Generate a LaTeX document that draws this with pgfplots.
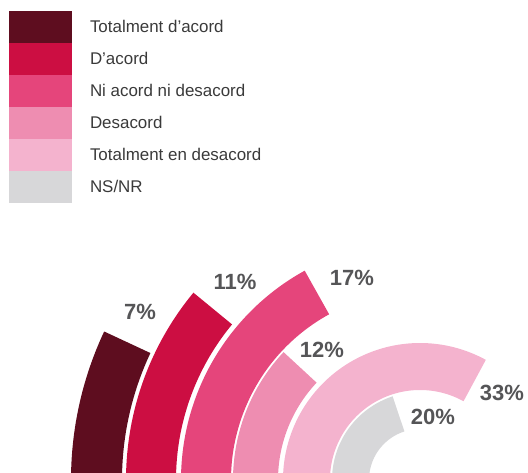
\documentclass[border=0pt]{standalone}
\usepackage{fontspec}
\setmainfont{Liberation Sans}
\usepackage{pgfplots}
\pgfplotsset{compat=1.18}
\definecolor{c1}{HTML}{5E0D1F}
\definecolor{c2}{HTML}{CC0E42}
\definecolor{c3}{HTML}{E5457B}
\definecolor{c4}{HTML}{EE8DB1}
\definecolor{c5}{HTML}{F4B3CE}
\definecolor{c6}{HTML}{D7D7D9}
\definecolor{lbl}{HTML}{555557}
\definecolor{legtxt}{HTML}{3A3A3A}
\begin{document}
\begin{tikzpicture}
\begin{axis}[name=ax, x=0.75pt, y=0.75pt, xmin=-420, xmax=108, ymin=8, ymax=480,
  hide axis, clip=true,
  /pgf/number format/assume math mode=true,
  legend style={at={(axis cs:-411,469)}, anchor=north west, draw=none, fill=none,
    inner sep=0pt, outer sep=0pt, row sep=0pt,
    font=\fontsize{12.7}{14}\selectfont\color{legtxt},
    nodes={inner sep=0pt},
    /tikz/every odd column/.style={column sep=13.5pt}},
  legend cell align=left,
  legend image code/.code={\fill[#1, draw=none] (0pt,-12pt) rectangle (47.25pt,12pt);},
]
% rings: value (%) -> angle = value*3.6 deg, starting at 180 deg, clockwise
\addplot[forget plot, data cs=polar, domain=154.8:180, samples=60, line width=38.25pt, draw=c1] (x,323.5);  % 7
\addplot[forget plot, data cs=polar, domain=140.4:180, samples=60, line width=37.5pt, draw=c2] (x,269);     % 11
\addplot[forget plot, data cs=polar, domain=118.8:180, samples=80, line width=37.5pt, draw=c3] (x,214);     % 17
\addplot[forget plot, data cs=polar, domain=136.8:180, samples=60, line width=33.75pt, draw=c4] (x,164.5);  % 12
\addplot[forget plot, data cs=polar, domain=61.2:180, samples=120, line width=35.25pt, draw=c5] (x,113.5);  % 33
\addplot[forget plot, data cs=polar, domain=108:180, samples=80, line width=27.75pt, draw=c6] (x,69.5);     % 20
% labels
\addplot[forget plot, draw=none, nodes near coords={\pgfmathprintnumber{\pgfplotspointmeta}\%},
  point meta=explicit,
  nodes near coords style={anchor=center, font=\fontsize{16.5}{18}\selectfont\bfseries, text=lbl}]
  table[meta=v, row sep=\\] {
  x y v\\
  -280 168 7\\
  -185 198 11\\
  -68 202 17\\
  -98 130 12\\
  82 87 33\\
  13 63 20\\
};
\addlegendimage{fill=c1}\addlegendentry{Totalment d’acord}
\addlegendimage{fill=c2}\addlegendentry{D’acord}
\addlegendimage{fill=c3}\addlegendentry{Ni acord ni desacord}
\addlegendimage{fill=c4}\addlegendentry{Desacord}
\addlegendimage{fill=c5}\addlegendentry{Totalment en desacord}
\addlegendimage{fill=c6}\addlegendentry{NS/NR}
\end{axis}
\pgfresetboundingbox
\path (ax.south west) rectangle (ax.north east);
\end{tikzpicture}
\end{document}
